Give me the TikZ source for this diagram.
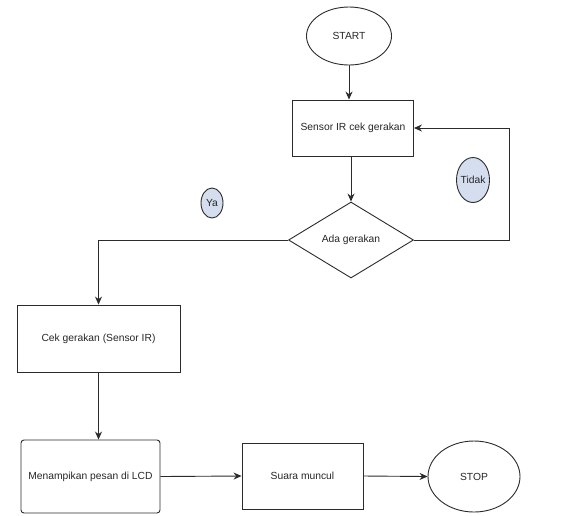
\documentclass[tikz,border=0pt]{standalone}
\usepackage{fontspec}
\setmainfont{Liberation Sans}
\usetikzlibrary{shapes.geometric,arrows.meta}
\definecolor{lineclr}{HTML}{2B2B2B}
\definecolor{tagfill}{HTML}{D4DEEE}
\begin{document}
\begin{tikzpicture}[x=1pt,y=-1pt,
  every node/.style={font=\fontsize{10.3}{12}\selectfont, text=black!85},
  proc/.style={draw=lineclr, line width=0.9pt, rectangle, inner sep=0pt},
  term/.style={draw=lineclr, line width=0.9pt, ellipse, inner sep=0pt},
  dec/.style={draw=lineclr, line width=0.9pt, diamond, inner sep=0pt},
  tag/.style={draw=lineclr, line width=0.9pt, ellipse, fill=tagfill, inner sep=0pt},
  conn/.style={draw=lineclr, line width=0.9pt, -{Stealth[length=8pt,width=7pt]}}
]
\useasboundingbox (0,0) rectangle (577,515);

\node[term, minimum width=85pt, minimum height=58pt] (start) at (349,36) {START};
\node[proc, minimum width=121pt, minimum height=56pt] (sensor) at (353,128) {Sensor IR cek gerakan};
\node[dec, minimum width=125pt, minimum height=76pt] (ada) at (351,240) {Ada gerakan};
\node[tag, minimum width=33pt, minimum height=45pt] (tidak) at (473,180) {\makebox[0pt]{Tidak}};
\node[tag, minimum width=22pt, minimum height=30pt] (ya) at (212,203) {\makebox[0pt]{Ya}};
\node[proc, minimum width=163pt, minimum height=67pt] (cek) at (98.5,338.5) {Cek gerakan (Sensor IR)};
\node[proc, rounded corners=3pt, minimum width=139pt, minimum height=73pt] (lcd) at (90.5,476.5) {Menampikan pesan di LCD};
\node[proc, minimum width=121pt, minimum height=66pt] (suara) at (302.5,476) {Suara muncul};
\node[term, minimum width=92pt, minimum height=71pt] (stop) at (474,476.5) {STOP};

\draw[conn] (start.south) -- (start.south |- sensor.north);
\draw[conn] (sensor.south -| ada.north) -- (ada.north);
\draw[conn] (ada.east) -- ++(95,0) |- (sensor.east);
\draw[conn] (ada.west) -| (cek.north);
\draw[conn] (cek.south) -- (cek.south |- lcd.north);
\draw[conn] (lcd.east) -- (suara.west);
\draw[conn] (suara.east) -- (stop.west);
\end{tikzpicture}
\end{document}
